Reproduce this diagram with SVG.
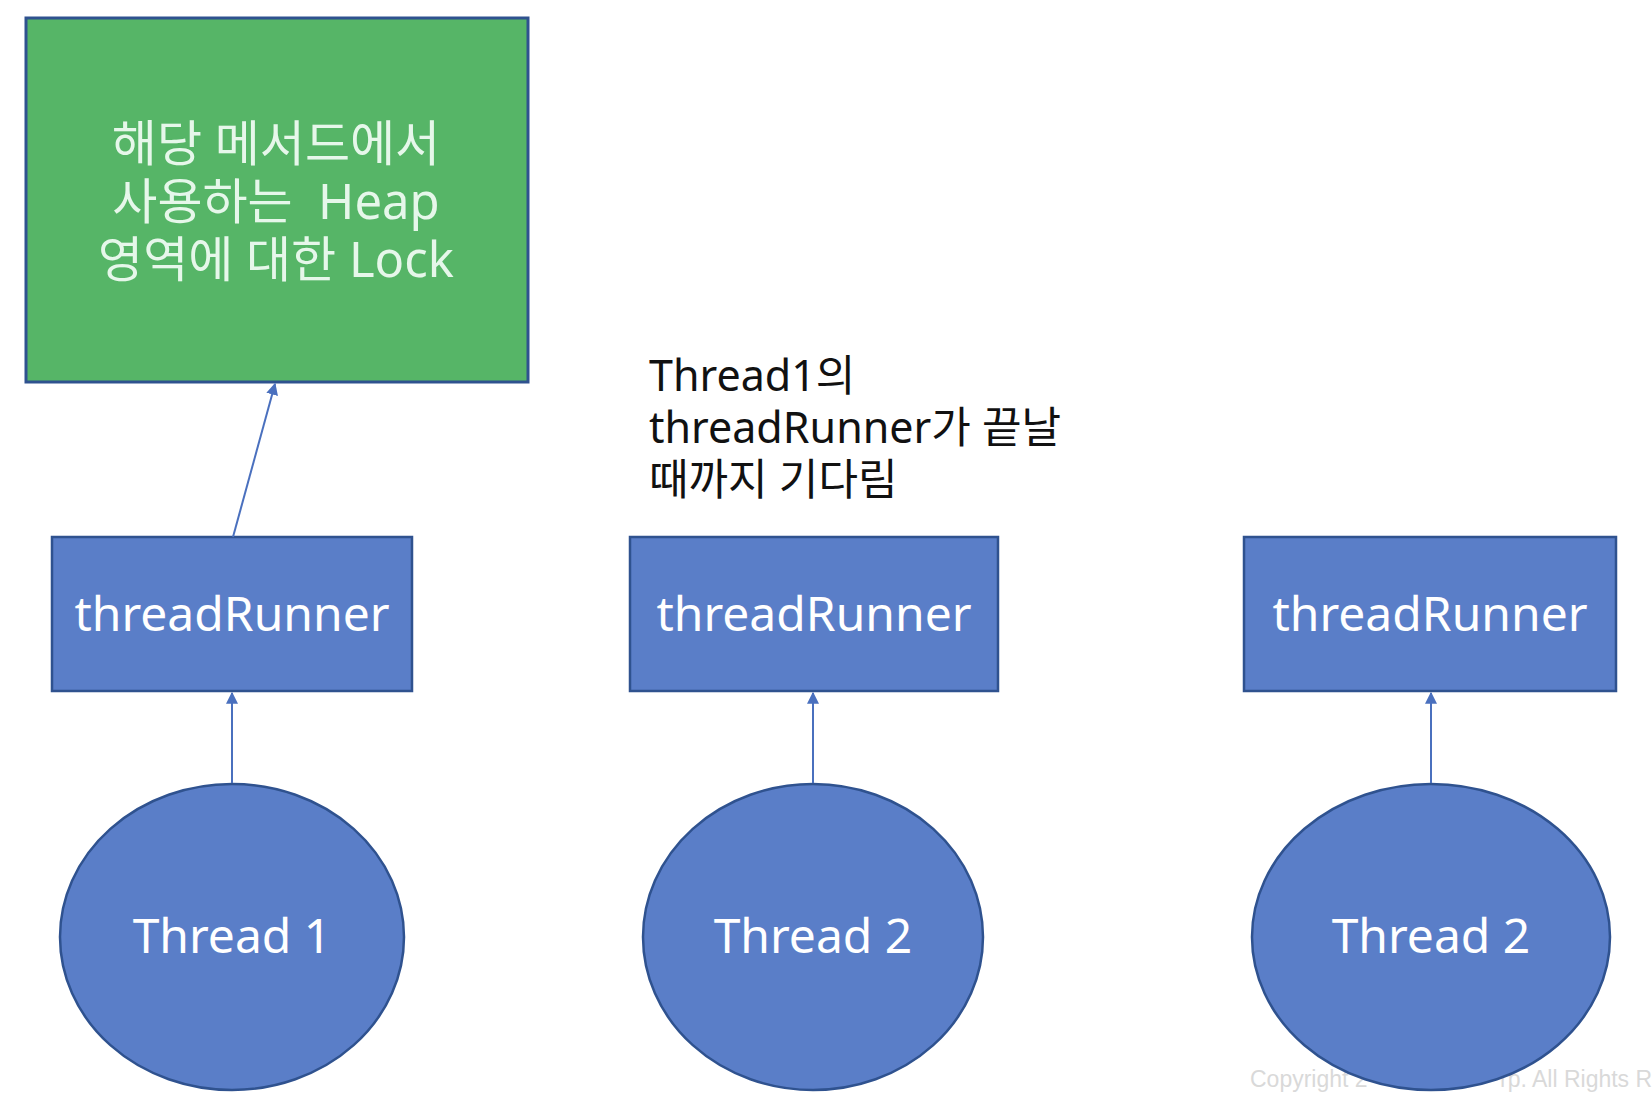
<svg xmlns="http://www.w3.org/2000/svg" width="1652" height="1110" viewBox="0 0 1652 1110">
<style>
.box{fill:#5A7EC8;stroke:#2F528F;stroke-width:2.5}
.lock{fill:#56B567;stroke:#2F528F;stroke-width:3}
.wt{fill:#FFFFFF;font-family:"Noto Sans","Noto Sans CJK KR",sans-serif;font-size:48px;text-anchor:middle}
.gt{fill:#E6F7EA;font-family:"Noto Sans","Noto Sans CJK KR",sans-serif;font-size:49px;text-anchor:middle}
.bt{fill:#111111;font-family:"Noto Sans","Noto Sans CJK KR",sans-serif;font-size:43px}
.cp{fill:#D9D9D9;font-family:"Liberation Sans",Arial,sans-serif;font-size:23px}
.conn{stroke:#4A70BE;stroke-width:2;fill:none;marker-end:url(#ah)}
</style>
<defs>
<marker id="ah" viewBox="0 0 10 10" refX="9" refY="5" markerWidth="6" markerHeight="6" markerUnits="strokeWidth" orient="auto">
<path d="M0,0 L10,5 L0,10 z" fill="#4A70BE"/>
</marker>
</defs>
<rect width="1652" height="1110" fill="#FFFFFF"/>
<text class="cp" x="1250" y="1087">Copyright 2<tspan x="1500">rp. All Rights R</tspan></text>
<g id="lock">
<rect class="lock" x="26" y="18" width="502" height="364"/>
<text class="gt" x="276" y="161">해당 메서드에서</text>
<text class="gt" x="276" y="219">사용하는&#160; Heap</text>
<text class="gt" x="276" y="277">영역에 대한 Lock</text>
</g>
<g id="note">
<text class="bt" x="649" y="391">Thread1의</text>
<text class="bt" x="649" y="443">threadRunner가 끝날</text>
<text class="bt" x="649" y="495">때까지 기다림</text>
</g>
<g id="runner1"><rect class="box" x="52" y="537" width="360" height="154"/><text class="wt" x="232" y="631">threadRunner</text></g>
<g id="runner2"><rect class="box" x="630" y="537" width="368" height="154"/><text class="wt" x="814" y="631">threadRunner</text></g>
<g id="runner3"><rect class="box" x="1244" y="537" width="372" height="154"/><text class="wt" x="1430" y="631">threadRunner</text></g>
<g id="thread1"><ellipse class="box" cx="232" cy="937" rx="172" ry="153"/><text class="wt" x="232" y="953">Thread 1</text></g>
<g id="thread2"><ellipse class="box" cx="813" cy="937" rx="170" ry="153"/><text class="wt" x="813" y="953">Thread 2</text></g>
<g id="thread3"><ellipse class="box" cx="1431" cy="937" rx="179" ry="153"/><text class="wt" x="1431" y="953">Thread 2</text></g>
<g id="connectors">
<line class="conn" x1="233" y1="537" x2="275" y2="384"/>
<line class="conn" x1="232" y1="783" x2="232" y2="693"/>
<line class="conn" x1="813" y1="783" x2="813" y2="693"/>
<line class="conn" x1="1431" y1="783" x2="1431" y2="693"/>
</g>
</svg>
